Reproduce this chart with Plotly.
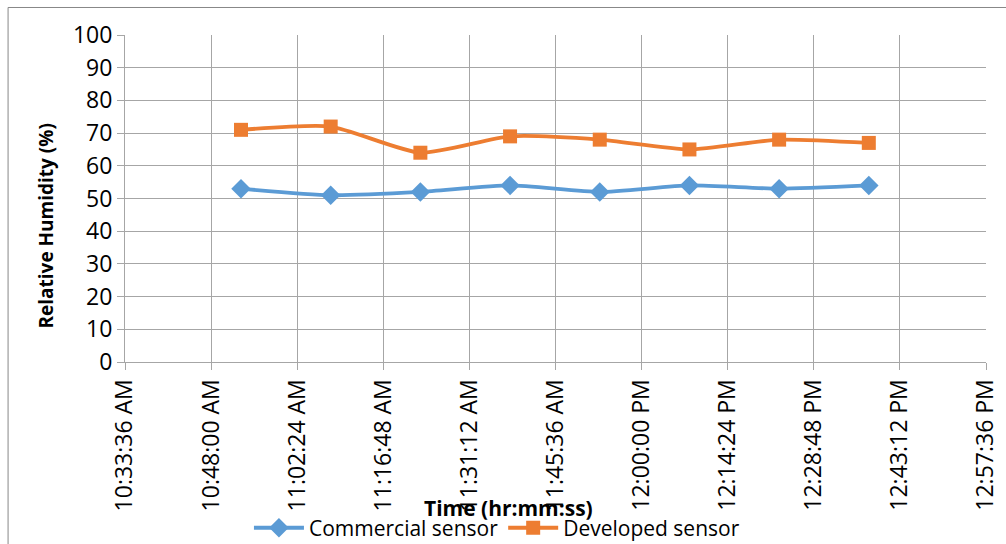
import plotly.graph_objects as go

day = "2024-01-01 "
times = ["10:53:00", "11:08:00", "11:23:00", "11:38:00", "11:53:00", "12:08:00", "12:23:00", "12:38:00"]
commercial = [53, 51, 52, 54, 52, 54, 53, 54]
developed = [71, 72, 64, 69, 68, 65, 68, 67]

tick_times = ["10:33:36", "10:48:00", "11:02:24", "11:16:48", "11:31:12", "11:45:36",
              "12:00:00", "12:14:24", "12:28:48", "12:43:12", "12:57:36"]
tick_labels = ["10:33:36 AM", "10:48:00 AM", "11:02:24 AM", "11:16:48 AM", "11:31:12 AM",
               "11:45:36 AM", "12:00:00 PM", "12:14:24 PM", "12:28:48 PM", "12:43:12 PM",
               "12:57:36 PM"]

x = [day + t for t in times]
tickvals = [day + t for t in tick_times]

BLUE = "#5B9BD5"
ORANGE = "#ED7D31"
GRID = "#A6A6A6"
FONT = "Open Sans"

fig = go.Figure()
fig.add_trace(go.Scatter(
    x=x, y=commercial, name="Commercial sensor", mode="lines+markers",
    line=dict(color=BLUE, width=3.8, shape="spline", smoothing=0.6),
    marker=dict(symbol="diamond", size=15, color=BLUE),
))
fig.add_trace(go.Scatter(
    x=x, y=developed, name="Developed sensor", mode="lines+markers",
    line=dict(color=ORANGE, width=3.8, shape="spline", smoothing=0.6),
    marker=dict(symbol="square", size=14, color=ORANGE),
))

fig.update_layout(
    width=1006, height=544,
    margin=dict(l=124.5, r=20, t=35, b=182, autoexpand=False),
    paper_bgcolor="white", plot_bgcolor="white",
    font=dict(family=FONT, size=21, color="#000000"),
    showlegend=True,
    legend=dict(orientation="h", x=0.432, xanchor="center", y=-0.508, yanchor="middle",
                font=dict(family=FONT, size=21), itemwidth=50,
                bgcolor="rgba(0,0,0,0)", tracegroupgap=0),
    xaxis=dict(
        type="date", automargin=False,
        range=[tickvals[0], tickvals[-1]],
        tickmode="array", tickvals=tickvals, ticktext=tick_labels,
        tickangle=-90, tickfont=dict(family=FONT, size=23),
        showgrid=True, gridcolor=GRID, gridwidth=1,
        showline=True, linecolor=GRID, linewidth=1,
        ticks="outside", ticklen=7, tickcolor=GRID,
        zeroline=False,
    ),
    yaxis=dict(
        automargin=False,
        range=[0, 100], dtick=10, tick0=0,
        tickfont=dict(family=FONT, size=23),
        showgrid=True, gridcolor=GRID, gridwidth=1,
        showline=True, linecolor=GRID, linewidth=1,
        ticks="outside", ticklen=7, tickcolor=GRID,
        zeroline=False,
    ),
    annotations=[
        dict(text="<b>Time (hr:mm:ss)</b>", xref="paper", yref="paper",
             x=0.445, y=-0.448, xanchor="center", yanchor="middle", showarrow=False,
             font=dict(family=FONT, size=21, color="#000000")),
        dict(text="<b>Relative Humidity (%)</b>", xref="paper", yref="paper",
             x=-0.0923, y=0.416, xanchor="center", yanchor="middle", showarrow=False,
             textangle=-90, font=dict(family=FONT, size=19, color="#000000")),
    ],
    shapes=[dict(
        type="rect", xref="paper", yref="paper",
        x0=-0.1358, y0=-1.5, x1=1.5, y1=1.0841,
        line=dict(color="#878787", width=1), fillcolor="rgba(0,0,0,0)", layer="below",
    )],
)

fig.write_html("out.html", config={"displayModeBar": False},
               post_script="document.body.style.margin='0';document.body.style.overflow='hidden';")
